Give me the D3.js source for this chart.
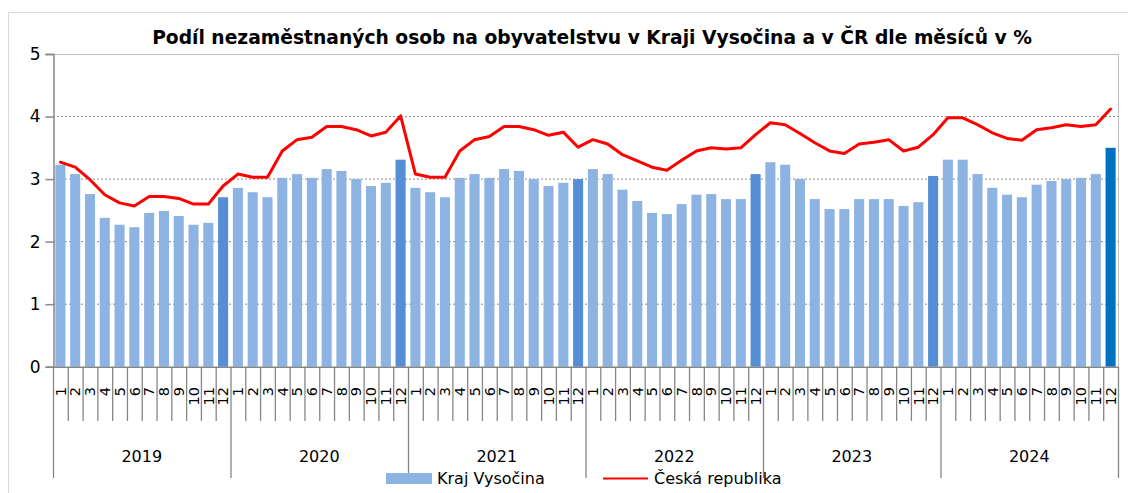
<!DOCTYPE html>
<html>
<head>
<meta charset="utf-8">
<script src="https://cdn.jsdelivr.net/npm/d3@7"></script>
<style>
  body { margin: 0; background: #fff; }
  svg { display: block; font-family: "DejaVu Sans", Verdana, sans-serif; }
</style>
</head>
<body>
<svg id="chart" width="1128" height="493"></svg>
<script>
// data
const years = ["2019", "2020", "2021", "2022", "2023", "2024"];
const months = ["1","2","3","4","5","6","7","8","9","10","11","12"];
const vysocina = [
  3.23, 3.08, 2.76, 2.38, 2.27, 2.23, 2.46, 2.49, 2.41, 2.27, 2.30, 2.71,
  2.86, 2.79, 2.71, 3.02, 3.08, 3.02, 3.16, 3.13, 3.00, 2.89, 2.94, 3.31,
  2.86, 2.79, 2.71, 3.02, 3.08, 3.02, 3.16, 3.13, 3.00, 2.89, 2.94, 3.00,
  3.16, 3.08, 2.83, 2.65, 2.46, 2.44, 2.60, 2.75, 2.76, 2.68, 2.68, 3.08,
  3.27, 3.23, 3.00, 2.68, 2.52, 2.52, 2.68, 2.68, 2.68, 2.57, 2.63, 3.05,
  3.31, 3.31, 3.08, 2.86, 2.75, 2.71, 2.91, 2.97, 3.00, 3.02, 3.08, 3.50
];
const cr = [
  3.27, 3.19, 2.99, 2.75, 2.62, 2.57, 2.72, 2.72, 2.69, 2.60, 2.60, 2.89,
  3.08, 3.03, 3.03, 3.45, 3.63, 3.67, 3.84, 3.84, 3.79, 3.69, 3.75, 4.01,
  3.08, 3.03, 3.03, 3.45, 3.63, 3.68, 3.84, 3.84, 3.79, 3.70, 3.75, 3.51,
  3.63, 3.56, 3.39, 3.29, 3.19, 3.14, 3.30, 3.45, 3.50, 3.48, 3.50, 3.71,
  3.90, 3.87, 3.73, 3.58, 3.45, 3.41, 3.56, 3.59, 3.63, 3.45, 3.51, 3.71,
  3.98, 3.98, 3.87, 3.74, 3.65, 3.62, 3.79, 3.82, 3.87, 3.84, 3.87, 4.12
];
const yTicks = [0, 1, 2, 3, 4, 5];
const seriesNames = ["Kraj Vysočina", "Česká republika"];
const title = "Podíl nezaměstnaných osob na obyvatelstvu v Kraji Vysočina a v ČR dle měsíců v %";

const svg = d3.select("#chart");
const plotL = 53, plotR = 1118, plotT = 54, plotB = 366.7;

// one entry per month
const rows = [];
years.forEach((yr, yi) => months.forEach((m, mi) => {
  const i = yi * 12 + mi;
  rows.push({ key: yr + "-" + m, year: yr, month: m, v: vysocina[i], c: cr[i], i: i });
}));

const x = d3.scaleBand().domain(rows.map(d => d.key)).range([plotL, plotR]).paddingInner(0.32).paddingOuter(0.16);
const y = d3.scaleLinear().domain([0, 5]).range([plotB, plotT]);

// outer chart frame
svg.append("rect").attr("x", 8.5).attr("y", 12.5).attr("width", 1130).attr("height", 500)
  .attr("fill", "none").attr("stroke", "#d9d9d9");

// grid
svg.append("g").selectAll("line").data(yTicks.filter(t => t > 0 && t < 5)).join("line")
  .attr("x1", plotL).attr("x2", plotR).attr("y1", d => y(d)).attr("y2", d => y(d))
  .attr("stroke", "#8c8c8c").attr("stroke-dasharray", "2,2");
svg.append("line").attr("x1", plotL).attr("x2", plotR).attr("y1", y(5) + 0.5).attr("y2", y(5) + 0.5)
  .attr("stroke", "#c0c0c0");
svg.append("line").attr("x1", plotR + 0.5).attr("x2", plotR + 0.5).attr("y1", plotT).attr("y2", plotB)
  .attr("stroke", "#c0c0c0");

// bars
svg.append("g").selectAll("rect").data(rows).join("rect")
  .attr("x", d => x(d.key)).attr("width", x.bandwidth())
  .attr("y", d => y(d.v)).attr("height", d => y(0) - y(d.v))
  .attr("fill", d => d.i === rows.length - 1 ? "#0070c0" : (d.month === "12" ? "#558ed5" : "#8db3e2"));

// line
const line = d3.line().x(d => x(d.key) + x.bandwidth() / 2).y(d => y(d.c));
svg.append("path").datum(rows).attr("d", line)
  .attr("fill", "none").attr("stroke", "#ff0000").attr("stroke-width", 3)
  .attr("stroke-linejoin", "round").attr("stroke-linecap", "round");

// y axis
const yAxis = d3.axisLeft(y).tickValues(yTicks).tickSize(8).tickFormat(d3.format("d"));
const ya = svg.append("g").attr("transform", `translate(${plotL + 0.5},0)`).call(yAxis);
ya.select(".domain").attr("stroke", "#868686").attr("stroke-width", 1.5);
ya.selectAll(".tick line").attr("stroke", "#868686").attr("stroke-width", 1.5);
ya.selectAll(".tick text").attr("font-size", 17).attr("font-family", "DejaVu Sans").attr("fill", "#000").attr("x", -13);

// x axis baseline
svg.append("line").attr("x1", plotL).attr("x2", plotR + 1).attr("y1", plotB + 0.5).attr("y2", plotB + 0.5)
  .attr("stroke", "#868686").attr("stroke-width", 1.5);

// category boundaries
const step = x.step();
const edges = d3.range(rows.length + 1);
svg.append("g").selectAll("line").data(edges).join("line")
  .attr("x1", i => plotL + i * step + 0.5).attr("x2", i => plotL + i * step + 0.5)
  .attr("y1", plotB).attr("y2", i => i % 12 === 0 ? 478 : 421)
  .attr("stroke", "#868686").attr("stroke-width", 1.3);

// month labels
svg.append("g").selectAll("text").data(rows).join("text")
  .attr("transform", d => `translate(${x(d.key) + x.bandwidth() / 2},387) rotate(-90)`)
  .attr("dy", "0.36em").attr("text-anchor", "end")
  .attr("font-size", 14.5).attr("fill", "#000").text(d => d.month);

// year labels
svg.append("g").selectAll("text").data(years).join("text")
  .attr("x", (d, i) => plotL + (i * 12 + 6) * step).attr("y", 462)
  .attr("text-anchor", "middle").attr("font-size", 16).attr("fill", "#000").text(d => d);

// title
const t = svg.append("text").attr("x", 592).attr("y", 44).attr("text-anchor", "middle")
  .attr("font-weight", "bold").attr("font-size", 19).attr("fill", "#000").text(title);
const tw = t.node().getComputedTextLength();
t.attr("font-size", 19 * 880 / tw);

// legend
const lg = svg.append("g");
lg.append("rect").attr("x", 386).attr("y", 473).attr("width", 46).attr("height", 11).attr("fill", "#8db3e2");
lg.append("text").attr("x", 437).attr("y", 484).attr("font-size", 16).text(seriesNames[0]);
lg.append("line").attr("x1", 603).attr("x2", 648).attr("y1", 478.5).attr("y2", 478.5)
  .attr("stroke", "#ff0000").attr("stroke-width", 2);
lg.append("text").attr("x", 654).attr("y", 484).attr("font-size", 16).text(seriesNames[1]);
</script>
</body>
</html>
